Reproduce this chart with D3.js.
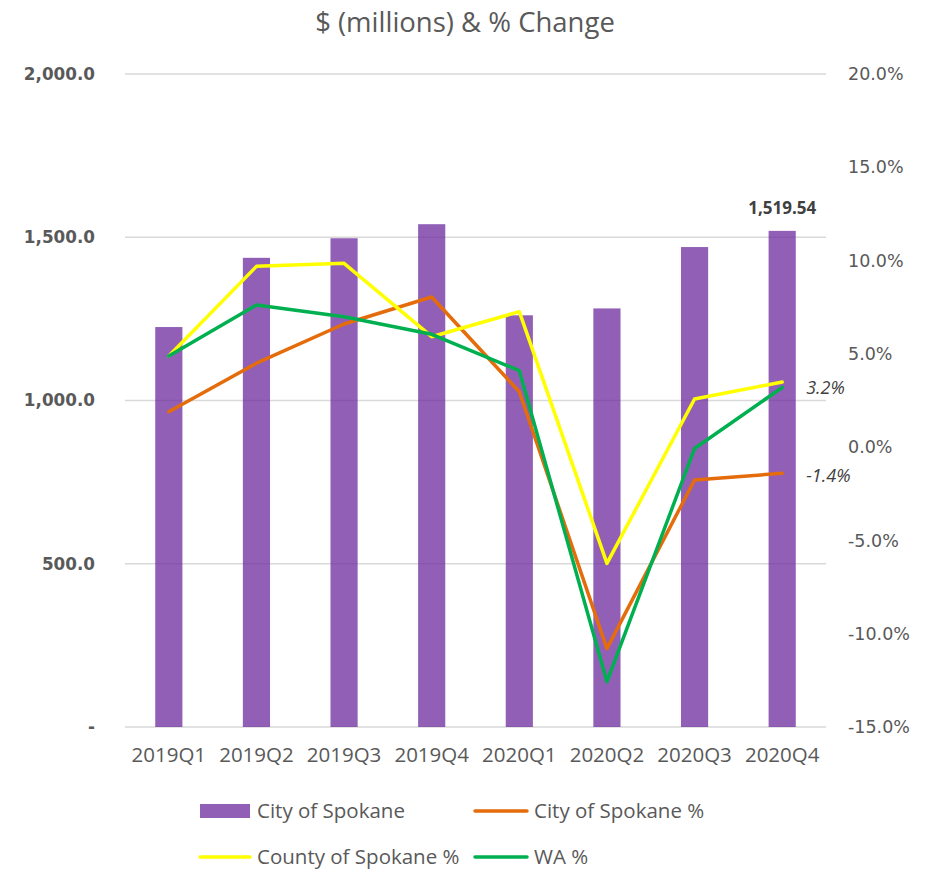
<!DOCTYPE html>
<html>
<head>
<meta charset="utf-8">
<script src="https://cdn.jsdelivr.net/npm/d3@7"></script>
<style>
  html, body { margin: 0; padding: 0; background: #fff; }
  svg { display: block; }
</style>
</head>
<body>
<svg id="chart" width="926" height="869"></svg>
<script>
const categories = ["2019Q1","2019Q2","2019Q3","2019Q4","2020Q1","2020Q2","2020Q3","2020Q4"];
const cityValues = [1225, 1437, 1497, 1540, 1261, 1282, 1470, 1519.54];
const cityPct = [1.9, 4.5, 6.6, 8.05, 2.97, -10.8, -1.76, -1.4];
const countyPct = [4.88, 9.69, 9.85, 5.92, 7.26, -6.23, 2.58, 3.49];
const waPct = [4.88, 7.62, 6.99, 6.05, 4.1, -12.57, -0.07, 3.2];
const leftTicks = [0, 500, 1000, 1500, 2000];
const rightTicks = [-15, -10, -5, 0, 5, 10, 15, 20];
const titleText = "$ (millions) & % Change";
const legendItems = [
  {name: "City of Spokane", type: "bar", color: "#7030A0"},
  {name: "City of Spokane %", type: "line", color: "#E46C0A"},
  {name: "County of Spokane %", type: "line", color: "#FFFF00"},
  {name: "WA %", type: "line", color: "#00B050"}
];

const svg = d3.select("#chart");
const plotLeft = 125, plotRight = 826, plotTop = 74, plotBottom = 727;
const textFont = "'Open Sans', sans-serif";
const grey = "#595959";
const pctFmt = d => d3.format(".1f")(d).replace("\u2212", "-") + "%";

const x = d3.scaleBand().domain(categories).range([plotLeft, plotRight])
  .paddingInner(0.69).paddingOuter(0.345);
const yL = d3.scaleLinear().domain([0, 2000]).range([plotBottom, plotTop]);
const yR = d3.scaleLinear().domain([-15, 20]).range([plotBottom, plotTop]);
const cx = c => x(c) + x.bandwidth() / 2;

// title
svg.append("text").attr("x", 465).attr("y", 32).attr("text-anchor", "middle")
  .attr("font-family", textFont).attr("font-size", 27.5).attr("fill", grey).text(titleText);

// gridlines
svg.append("g").selectAll("line").data(leftTicks).join("line")
  .attr("x1", plotLeft).attr("x2", plotRight)
  .attr("y1", d => yL(d)).attr("y2", d => yL(d))
  .attr("stroke", "#d9d9d9").attr("stroke-width", 1.5);

// bars
svg.append("g").selectAll("rect").data(categories).join("rect")
  .attr("x", d => x(d)).attr("width", x.bandwidth())
  .attr("y", (d, i) => yL(cityValues[i]))
  .attr("height", (d, i) => yL(0) - yL(cityValues[i]))
  .attr("fill", "#7030A0").attr("fill-opacity", 0.77);

// left axis
const axL = svg.append("g").attr("transform", `translate(${plotLeft},0)`)
  .call(d3.axisLeft(yL).tickValues(leftTicks).tickSize(0).tickPadding(30)
    .tickFormat(d => d === 0 ? "-" : d3.format(",.1f")(d)));
axL.select(".domain").remove();
axL.selectAll("text").attr("font-family", "'DejaVu Sans', sans-serif")
  .attr("font-weight", "bold").attr("font-size", 16.8).attr("fill", grey);

// right axis
const axR = svg.append("g").attr("transform", `translate(${plotRight},0)`)
  .call(d3.axisRight(yR).tickValues(rightTicks).tickSize(0).tickPadding(22)
    .tickFormat(pctFmt));
axR.select(".domain").remove();
axR.selectAll("text").attr("font-family", "'DejaVu Sans', sans-serif")
  .attr("font-size", 17.5).attr("fill", grey);

// bottom axis
const axB = svg.append("g").attr("transform", `translate(0,${plotBottom})`)
  .call(d3.axisBottom(x).tickSize(0).tickPadding(20));
axB.select(".domain").remove();
axB.selectAll("text").attr("font-family", textFont).attr("font-size", 20.5).attr("fill", grey);

// lines
const line = d3.line().x(d => cx(d.c)).y(d => yR(d.v));
[[cityPct, "#E46C0A"], [countyPct, "#FFFF00"], [waPct, "#00B050"]].forEach(([vals, col]) => {
  svg.append("path").datum(categories.map((c, i) => ({c, v: vals[i]})))
    .attr("d", line).attr("fill", "none").attr("stroke", col)
    .attr("stroke-width", 3.5).attr("stroke-linejoin", "round").attr("stroke-linecap", "round");
});

// data labels
const last = categories.length - 1;
svg.append("text").attr("x", cx(categories[last])).attr("y", yL(cityValues[last]) - 17)
  .attr("text-anchor", "middle").attr("font-family", textFont).attr("font-weight", "bold")
  .attr("font-size", 17).attr("fill", "#404040").text(d3.format(",.2f")(cityValues[last]));
svg.append("text").attr("x", cx(categories[last]) + 24).attr("y", yR(waPct[last]))
  .attr("dy", "0.35em").attr("font-family", textFont).attr("font-style", "italic")
  .attr("font-size", 18).attr("fill", "#404040").text(pctFmt(waPct[last]));
svg.append("text").attr("x", cx(categories[last]) + 24).attr("y", yR(cityPct[last]) + 2)
  .attr("dy", "0.35em").attr("font-family", textFont).attr("font-style", "italic")
  .attr("font-size", 18).attr("fill", "#404040").text(pctFmt(cityPct[last]));

// legend
const legPos = [[200, 811], [475, 811], [200, 857], [475, 857]];
legendItems.forEach((it, i) => {
  const [lx, ly] = legPos[i];
  const w = i % 2 === 0 ? 50 : 52;
  if (it.type === "bar") {
    svg.append("rect").attr("x", lx).attr("y", ly - 7).attr("width", w).attr("height", 14)
      .attr("fill", it.color).attr("fill-opacity", 0.77);
  } else {
    svg.append("line").attr("x1", lx).attr("x2", lx + w).attr("y1", ly).attr("y2", ly)
      .attr("stroke", it.color).attr("stroke-width", 3.5).attr("stroke-linecap", "round");
  }
  svg.append("text").attr("x", lx + w + 7).attr("y", ly).attr("dy", "0.35em")
    .attr("font-family", textFont).attr("font-size", 20.5).attr("fill", grey).text(it.name);
});
</script>
</body>
</html>
